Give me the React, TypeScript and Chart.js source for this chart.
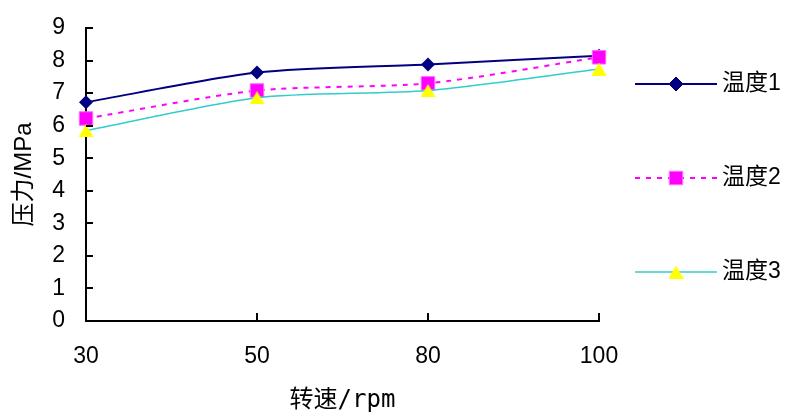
import React, { useEffect, useRef } from "react";
import { Chart, registerables } from "chart.js";

Chart.register(...registerables);

// Rotational speed categories (rpm) and pressure readings (MPa) per temperature
const speeds = ["30", "50", "80", "100"];
const temp1 = [6.72, 7.63, 7.88, 8.15];
const temp2 = [6.22, 7.08, 7.3, 8.1];
const temp3 = [5.85, 6.86, 7.08, 7.74];
const seriesNames = ["温度1", "温度2", "温度3"];
const yMin = 0;
const yMax = 9;

const LATIN = '"Liberation Sans", Arial, "Noto Sans CJK SC", sans-serif';
const MONO_CJK = '"DejaVu Sans Mono", "Noto Sans CJK SC", monospace';

function makeTriangle(w: number, h: number, color: string): HTMLCanvasElement {
  const c = document.createElement("canvas");
  c.width = w;
  c.height = h;
  const g = c.getContext("2d")!;
  g.fillStyle = color;
  g.beginPath();
  g.moveTo(w / 2, 0);
  g.lineTo(w, h);
  g.lineTo(0, h);
  g.closePath();
  g.fill();
  return c;
}

function drawMarker(ctx: CanvasRenderingContext2D, ds: any, x: number, y: number) {
  const style = ds.pointStyle;
  const r = ds.pointRadius;
  ctx.save();
  ctx.fillStyle = ds.pointBackgroundColor;
  ctx.strokeStyle = ds.pointBorderColor;
  ctx.lineWidth = ds.pointBorderWidth || 0;
  if (style instanceof HTMLCanvasElement) {
    ctx.drawImage(style, x - style.width / 2, y - style.height / 2);
    ctx.restore();
    return;
  }
  ctx.beginPath();
  if (style === "rectRot") {
    ctx.moveTo(x - r, y);
    ctx.lineTo(x, y - r);
    ctx.lineTo(x + r, y);
    ctx.lineTo(x, y + r);
    ctx.closePath();
  } else {
    const s = r * Math.SQRT1_2;
    ctx.rect(x - s, y - s, 2 * s, 2 * s);
  }
  ctx.fill();
  if (ctx.lineWidth > 0) ctx.stroke();
  ctx.restore();
}

// Inward tick marks on both axes plus a line-and-marker legend at the right
const decorPlugin = {
  id: "decor",
  afterDraw(chart: any) {
    const ctx: CanvasRenderingContext2D = chart.ctx;
    const area = chart.chartArea;
    const xs = chart.scales.x;
    const ys = chart.scales.y;
    ctx.save();
    ctx.strokeStyle = "#000";
    ctx.lineWidth = 2;
    ctx.beginPath();
    ys.ticks.forEach((t: any) => {
      const py = Math.round(ys.getPixelForValue(t.value));
      ctx.moveTo(area.left, py);
      ctx.lineTo(area.left + 7, py);
    });
    speeds.forEach((_, i) => {
      const px = Math.round(xs.getPixelForValue(i));
      ctx.moveTo(px, area.bottom);
      ctx.lineTo(px, area.bottom - 8);
    });
    ctx.stroke();
    ctx.restore();

    const lx0 = area.right + 36;
    const lx1 = area.right + 118;
    chart.data.datasets.forEach((ds: any, i: number) => {
      const y = area.top + 56 + i * 94;
      ctx.save();
      ctx.strokeStyle = ds.borderColor;
      ctx.lineWidth = ds.borderWidth;
      ctx.setLineDash(ds.borderDash || []);
      ctx.beginPath();
      ctx.moveTo(lx0, y);
      ctx.lineTo(lx1, y);
      ctx.stroke();
      ctx.restore();
      drawMarker(ctx, ds, (lx0 + lx1) / 2, y);
      ctx.save();
      ctx.fillStyle = "#000";
      ctx.font = '23px ' + LATIN;
      ctx.textBaseline = "middle";
      ctx.textAlign = "left";
      ctx.fillText(ds.label, lx1 + 5, y);
      ctx.restore();
    });
  },
};

export default function App() {
  const ref = useRef<HTMLCanvasElement | null>(null);

  useEffect(() => {
    document.body.style.margin = "0";
    const canvas = ref.current;
    if (!canvas) return;
    const tri = makeTriangle(15, 13, "#FFFF00");

    const chart = new Chart(canvas, {
      type: "line",
      data: {
        labels: speeds,
        datasets: [
          {
            label: seriesNames[0],
            data: temp1,
            borderColor: "#000080",
            borderWidth: 2,
            pointStyle: "rectRot",
            pointRadius: 7,
            pointBackgroundColor: "#000080",
            pointBorderColor: "#000080",
            pointBorderWidth: 0,
            tension: 0.25,
            order: 3,
          },
          {
            label: seriesNames[1],
            data: temp2,
            borderColor: "#FF00FF",
            borderWidth: 2,
            borderDash: [5, 6],
            pointStyle: "rect",
            pointRadius: 9.5,
            pointBackgroundColor: "#FF00FF",
            pointBorderColor: "#FF66FF",
            pointBorderWidth: 1,
            tension: 0.25,
            order: 2,
          },
          {
            label: seriesNames[2],
            data: temp3,
            borderColor: "#33CCCC",
            borderWidth: 1.5,
            pointStyle: tri as any,
            pointRadius: 7,
            pointBackgroundColor: "#FFFF00",
            pointBorderColor: "#FFFF00",
            pointBorderWidth: 0,
            tension: 0.25,
            order: 1,
          },
        ],
      },
      options: {
        responsive: false,
        animation: false,
        layout: { padding: { left: 0, top: 28, right: 190, bottom: 0 } },
        plugins: {
          legend: { display: false },
          tooltip: { enabled: false },
        },
        elements: { point: { hoverRadius: 0 } },
        scales: {
          x: {
            type: "category",
            offset: false,
            grid: { display: true, drawOnChartArea: false, drawTicks: false },
            border: { display: true, color: "#000", width: 2 },
            ticks: {
              color: "#000",
              font: { family: LATIN, size: 23 },
              padding: 22,
              maxRotation: 0,
            },
            title: {
              display: true,
              text: "转速/rpm",
              color: "#000",
              font: { family: MONO_CJK, size: 24, lineHeight: 1 },
              padding: { top: 0, bottom: 1 },
            },
            afterFit: (s: any) => {
              s.height = 93;
              s.paddingLeft = 0;
              s.paddingRight = 0;
            },
          },
          y: {
            min: yMin,
            max: yMax,
            grid: { display: true, drawOnChartArea: false, drawTicks: false },
            border: { display: true, color: "#000", width: 2 },
            ticks: {
              stepSize: 1,
              color: "#000",
              font: { family: LATIN, size: 23 },
              padding: 21,
            },
            title: {
              display: true,
              text: "压力/MPa",
              color: "#000",
              font: { family: LATIN, size: 24, lineHeight: 1 },
              padding: { top: 12, bottom: 0 },
            },
            afterFit: (s: any) => {
              s.width = 86;
              s.paddingTop = 0;
              s.paddingBottom = 0;
            },
          },
        },
      },
      plugins: [decorPlugin],
    });
    return () => chart.destroy();
  }, []);

  return (
    <div style={{ width: 789, height: 414, background: "#fff" }}>
      <canvas ref={ref} width={789} height={414} style={{ display: "block" }} />
    </div>
  );
}
